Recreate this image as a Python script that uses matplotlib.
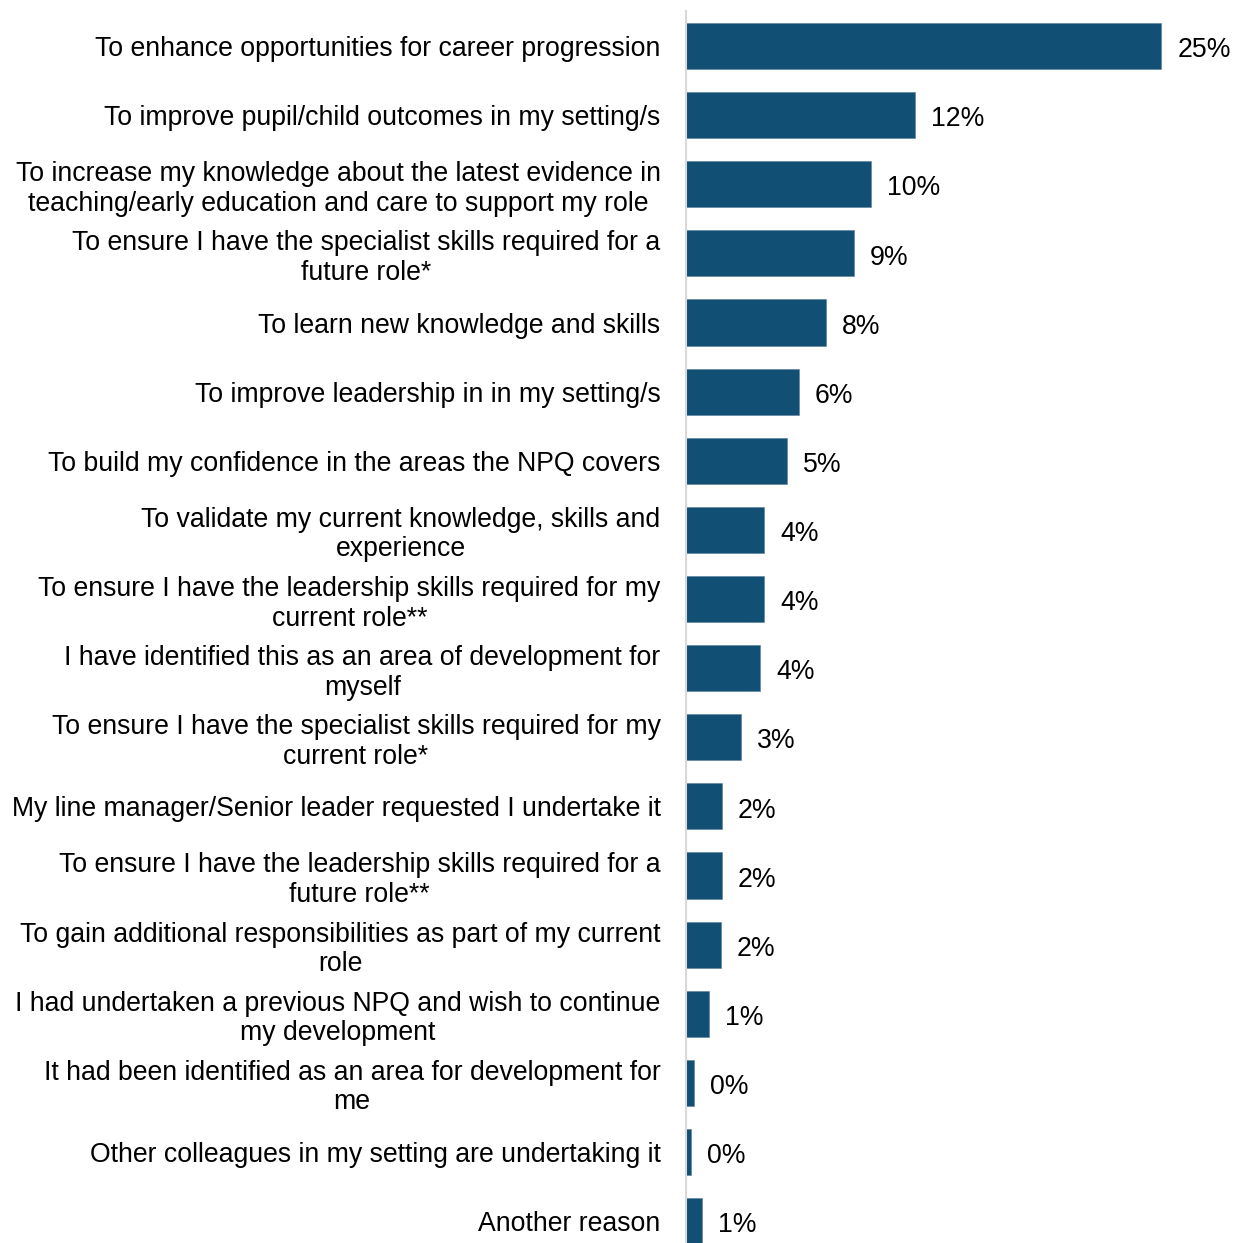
import numpy as np
import matplotlib.pyplot as plt

plt.rcParams['font.family'] = ['Liberation Sans', 'DejaVu Sans']

# Reasons for taking the NPQ, share of respondents (%)
reasons = [
    "To enhance opportunities for career progression",
    "To improve pupil/child outcomes in my setting/s",
    "To increase my knowledge about the latest evidence in\nteaching/early education and care to support my role",
    "To ensure I have the specialist skills required for a\nfuture role*",
    "To learn new knowledge and skills",
    "To improve leadership in in my setting/s",
    "To build my confidence in the areas the NPQ covers",
    "To validate my current knowledge, skills and\nexperience",
    "To ensure I have the leadership skills required for my\ncurrent role**",
    "I have identified this as an area of development for\nmyself",
    "To ensure I have the specialist skills required for my\ncurrent role*",
    "My line manager/Senior leader requested I undertake it",
    "To ensure I have the leadership skills required for a\nfuture role**",
    "To gain additional responsibilities as part of my current\nrole",
    "I had undertaken a previous NPQ and wish to continue\nmy development",
    "It had been identified as an area for development for\nme",
    "Other colleagues in my setting are undertaking it",
    "Another reason",
]
shares = [25.45, 12.27, 9.92, 9.01, 7.52, 6.07, 5.43, 4.20, 4.20, 3.98,
          2.97, 1.95, 1.95, 1.90, 1.26, 0.45, 0.29, 0.88]

BAR_COLOR = '#114f75'
FS = 19.2
W, H = 1233, 1243

fig = plt.figure(figsize=(W / 100, H / 100), dpi=100)
# axes placed in pixels; the lowest row runs slightly past the bottom edge
left_px, top_px, bottom_px = 685.5, 11.5, 1255.6
ax = fig.add_axes([left_px / W, 1 - bottom_px / H,
                   1 - left_px / W, (bottom_px - top_px) / H])

y = np.arange(len(reasons))
ax.barh(y, shares, height=0.667, color=BAR_COLOR, edgecolor='#5a7f9c', linewidth=0.4)

for yi, v in zip(y, shares):
    ax.annotate(f"{v:.0f}%", xy=(v, yi), xytext=(11.5, -3), textcoords='offset points',
                va='center', ha='left', fontsize=FS, color='black')

ax.set_ylim(len(reasons) - 0.5, -0.5)
ax.set_xlim(0, (W - left_px) / 18.7)

ax.set_yticks(y)
ax.set_yticklabels(reasons, fontsize=FS, multialignment='center', linespacing=1.18)
ax.tick_params(axis='y', length=0, pad=18)
ax.set_xticks([])

for s in ['top', 'right', 'bottom']:
    ax.spines[s].set_visible(False)
ax.spines['left'].set_color('#d9d9d9')
ax.spines['left'].set_linewidth(1.5)

fig.savefig('out.png', dpi=100, facecolor='white')
